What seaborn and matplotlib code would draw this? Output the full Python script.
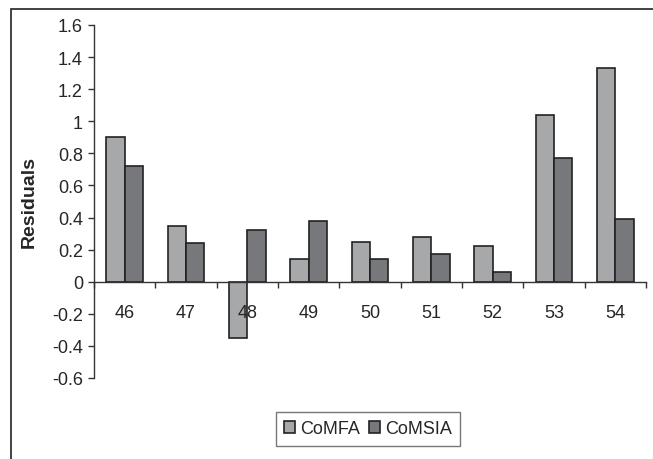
import pandas as pd
import matplotlib.pyplot as plt
import matplotlib.patches as mpatches
import seaborn as sns

sns.set_theme(style="white")
plt.rcParams['font.family'] = ['Liberation Sans', 'DejaVu Sans']

compounds = ['46', '47', '48', '49', '50', '51', '52', '53', '54']
comfa = [0.90, 0.35, -0.35, 0.14, 0.25, 0.28, 0.22, 1.04, 1.33]
comsia = [0.72, 0.24, 0.32, 0.38, 0.14, 0.17, 0.06, 0.77, 0.39]
y_ticks = [-0.6, -0.4, -0.2, 0, 0.2, 0.4, 0.6, 0.8, 1, 1.2, 1.4, 1.6]

df = pd.DataFrame({
    'Compound': compounds * 2,
    'Residual': comfa + comsia,
    'Model': ['CoMFA'] * len(compounds) + ['CoMSIA'] * len(compounds),
})

fig = plt.figure(figsize=(6.53, 4.60), dpi=100)
ax = fig.add_axes([94 / 653, 1 - 379 / 460, 552 / 653, 353 / 460])

colors = {'CoMFA': '#a6a8aa', 'CoMSIA': '#77787b'}
sns.barplot(data=df, x='Compound', y='Residual', hue='Model', palette=colors,
            width=0.6, gap=0, edgecolor='#222222', linewidth=1.2, ax=ax)

ax.set_xlim(-0.5, len(compounds) - 0.5)
ax.set_ylim(-0.6, 1.6)
ax.set_yticks(y_ticks)
ax.set_yticklabels([f'{v:g}' for v in y_ticks])
ax.set_xlabel('')
ax.set_ylabel('Residuals', fontsize=14, fontweight='bold', labelpad=10)

for s in ['top', 'right']:
    ax.spines[s].set_visible(False)
ax.spines['bottom'].set_position(('data', 0))
for s in ['left', 'bottom']:
    ax.spines[s].set_color('#333333')
    ax.spines[s].set_linewidth(1.0)

ax.tick_params(axis='y', direction='out', length=4, width=1, color='#333333',
               labelsize=13, pad=4, left=True)
ax.tick_params(axis='x', which='major', length=0, labelsize=13, pad=16)
ax.set_xticks([i - 0.5 for i in range(len(compounds) + 1)], minor=True)
ax.tick_params(axis='x', which='minor', direction='out', length=4, width=1,
               color='#333333', bottom=True)
ax.xaxis.set_zorder(10)

handles, labels = ax.get_legend_handles_labels()
leg = ax.legend(handles, labels, ncol=2, loc='center',
                bbox_to_anchor=(368 / 653, 1 - 430 / 460),
                bbox_transform=fig.transFigure, fontsize=13, frameon=True,
                fancybox=False, handlelength=0.6, handleheight=0.6,
                handletextpad=0.3, columnspacing=0.5, borderpad=0.45)
leg.get_frame().set_edgecolor('#555555')
leg.get_frame().set_linewidth(1.0)

fig.patches.append(mpatches.Rectangle((11 / 653, -0.1), 1.2, 1 - 10 / 460 + 0.1,
                                      transform=fig.transFigure, fill=False,
                                      edgecolor='#222222', linewidth=1.2))

fig.savefig('out.png', dpi=100)
